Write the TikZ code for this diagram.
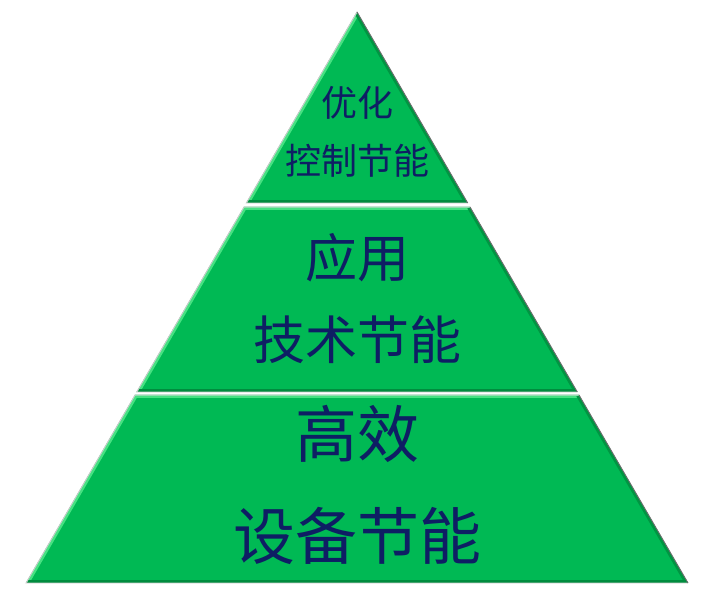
\documentclass[tikz,border=0pt]{standalone}
\usepackage{fontspec}
\newfontfamily\cjk{Noto Sans CJK SC}
\definecolor{pgreen}{RGB}{0,185,84}
\definecolor{plight}{RGB}{70,225,130}
\definecolor{pdark}{RGB}{0,140,62}
\definecolor{ptext}{RGB}{14,30,100}
\definecolor{pgrayL}{RGB}{200,200,200}
\definecolor{pgrayD}{RGB}{110,110,110}
\tikzset{
  layertext/.style={text=ptext, inner sep=0pt, font=\cjk},
}
\newcommand{\pyrlayer}[4]{% #1 top-left, #2 top-right, #3 bottom-right, #4 bottom-left
  \fill[pgreen] #1 -- #2 -- #3 -- #4 -- cycle;
  \begin{scope}
    \clip #1 -- #2 -- #3 -- #4 -- cycle;
    \draw[plight, line width=6pt] #4 -- #1 -- #2;
    \draw[pdark!80!pgreen, line width=6pt] #2 -- #3;
    \draw[pdark, line width=6pt] #3 -- #4;
    \draw[plight!60!white, line width=1.2pt] #4 -- #1 -- #2;
  \end{scope}
  \draw[pgrayL, line width=0.8pt] #3 -- #4 -- #1 -- #2;
  \draw[pgrayD, line width=0.9pt] #2 -- #3;
}
\begin{document}
\begin{tikzpicture}[x=1pt,y=1pt]
\useasboundingbox (0,0) rectangle (713,601);
\fill[white] (0,0) rectangle (713,601);
% top layer (triangle)
\pyrlayer{(357,589)}{(357,589)}{(467.7,398)}{(246.3,398)}
% middle layer
\pyrlayer{(244,394)}{(470,394)}{(577.3,209)}{(136.7,209)}
% bottom layer
\pyrlayer{(135,206)}{(579,206)}{(688,18)}{(26,18)}
% texts
\node[layertext, font=\cjk\fontsize{36}{36}\selectfont] (t1) at (357,498) {优化};
\node[layertext, font=\cjk\fontsize{36}{36}\selectfont] (t2) at (357,440) {控制节能};
\node[layertext, font=\cjk\fontsize{52}{52}\selectfont] (m1) at (357,343) {应用};
\node[layertext, font=\cjk\fontsize{52}{52}\selectfont] (m2) at (357,261) {技术节能};
\node[layertext, font=\cjk\fontsize{62}{62}\selectfont] (b1) at (357,167) {高效};
\node[layertext, font=\cjk\fontsize{62}{62}\selectfont] (b2) at (357,65) {设备节能};
\end{tikzpicture}
\end{document}
